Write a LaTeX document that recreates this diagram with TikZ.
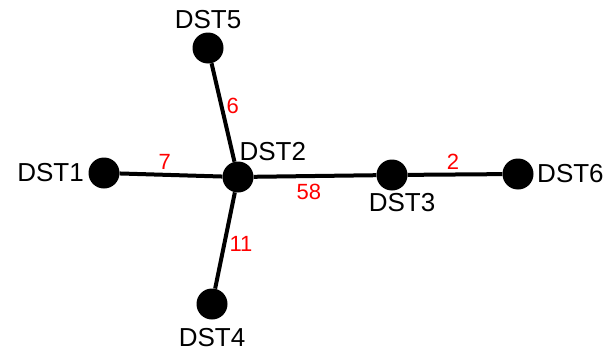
\documentclass[tikz,border=0pt]{standalone}
\usepackage{fontspec}
\setmainfont{Liberation Sans}
\usetikzlibrary{positioning}

\begin{document}
\begin{tikzpicture}[
        x=1pt, y=-1pt,
        dot/.style={circle, fill=black, minimum size=31pt, inner sep=0pt},
        lbl/.style={font=\fontsize{26}{26}\selectfont},
        wt/.style={text=red, font=\fontsize{22}{22}\selectfont},
        link/.style={line width=4pt} % thick black connectors
    ]
        \useasboundingbox (0,0) rectangle (613,356);

        \node[dot] (d1) at (104,173) {};
        \node[dot] (d2) at (238,177) {};
        \node[dot] (d3) at (392,175) {};
        \node[dot] (d4) at (212,304) {};
        \node[dot] (d5) at (208,48) {};
        \node[dot] (d6) at (518,174) {};

        \node[lbl, left=1pt of d1] (t1) {DST1};
        \node[lbl, anchor=south west, xshift=-2pt, yshift=-3pt] (t2) at (d2.north) {DST2};
        \node[lbl, below=-1pt of d3, xshift=10pt] (t3) {DST3};
        \node[lbl, below=5pt of d4] (t4) {DST4};
        \node[lbl, above=0pt of d5] (t5) {DST5};
        \node[lbl, right=0pt of d6] (t6) {DST6};

        \draw[link] (d1) -- (d2) node[wt, pos=0.44, above] {7};
        \draw[link] (d5) -- (d2) node[wt, pos=0.43, right] {6};
        \draw[link] (d2) -- (d3) node[wt, pos=0.45, below=3pt] {58};
        \draw[link] (d3) -- (d6) node[wt, pos=0.48, above] {2};
        \draw[link] (d2) -- (d4) node[wt, pos=0.54, right] {11};
    \end{tikzpicture}
\end{document}
